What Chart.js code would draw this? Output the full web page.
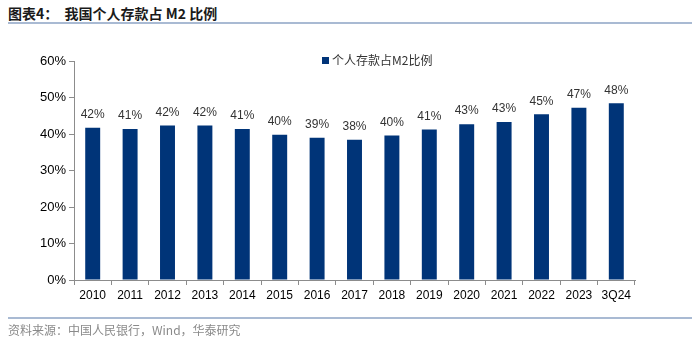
<!DOCTYPE html>
<html>
<head>
<meta charset="utf-8">
<script src="https://cdn.jsdelivr.net/npm/chart.js@4"></script>
<style>
  body { margin: 0; background: #fff; width: 700px; height: 342px; position: relative; overflow: hidden; }
  #myChart { position: absolute; left: 0; top: 0; }
  .title { position: absolute; left: 8px; top: 3px; font: bold 14px "Noto Sans CJK SC", sans-serif; color: #1a1a1a; white-space: pre; }
  .rule { position: absolute; left: 8px; width: 684px; height: 2px; background: #a9bad3; }
  .source { position: absolute; left: 8px; top: 321px; font: 12px "Noto Sans CJK SC", sans-serif; color: #8a8a8a; }
</style>
</head>
<body>
<div class="title">图表4：  我国个人存款占 M2 比例</div>
<div class="rule" style="top:22px"></div>
<canvas id="myChart" width="700" height="342"></canvas>
<div class="rule" style="top:317px"></div>
<div class="source">资料来源：中国人民银行，Wind，华泰研究</div>
<script>
var years = ['2010', '2011', '2012', '2013', '2014', '2015', '2016', '2017', '2018', '2019', '2020', '2021', '2022', '2023', '3Q24'];
var depositShare = [41.7, 41.4, 42.3, 42.3, 41.4, 39.8, 39.0, 38.4, 39.6, 41.2, 42.7, 43.3, 45.4, 47.2, 48.4];
var seriesName = '个人存款占M2比例';
var barColor = '#003478';

// value labels over each bar
var valueLabels = {
  id: 'valueLabels',
  afterDatasetsDraw: function (chart) {
    var ctx = chart.ctx;
    var meta = chart.getDatasetMeta(0);
    ctx.save();
    ctx.font = '12px "Liberation Sans", Arial, sans-serif';
    ctx.fillStyle = '#333';
    ctx.textAlign = 'center';
    ctx.textBaseline = 'middle';
    meta.data.forEach(function (bar, i) {
      ctx.fillText(Math.round(depositShare[i]) + '%', bar.x, bar.y - 13);
    });
    ctx.restore();
  }
};

// small legend inside the plot
var boxLegend = {
  id: 'boxLegend',
  afterDraw: function (chart) {
    var ctx = chart.ctx;
    ctx.save();
    ctx.fillStyle = barColor;
    ctx.fillRect(322, 57, 7, 7);
    ctx.font = '12px "Noto Sans CJK SC", sans-serif';
    ctx.fillStyle = '#333';
    ctx.textBaseline = 'middle';
    ctx.fillText(seriesName, 332, 60.5);
    ctx.restore();
  }
};

var axisGrey = '#8c8c8c';

var config = {
  type: 'bar',
  data: {
    labels: years,
    datasets: [{
      label: seriesName,
      data: depositShare,
      backgroundColor: barColor,
      barPercentage: 0.4,
      categoryPercentage: 1.0
    }]
  },
  options: {
    responsive: false,
    animation: false,
    devicePixelRatio: 1,
    layout: { padding: { top: 61, right: 65, left: 0, bottom: 0 } },
    plugins: {
      legend: { display: false },
      tooltip: { enabled: false }
    },
    scales: {
      x: {
        afterFit: function (s) { s.height = 62; },
        grid: { drawOnChartArea: false, tickLength: 5, color: axisGrey, offset: true },
        border: { color: axisGrey },
        ticks: { color: '#000', padding: 3, font: { size: 12, family: '"Liberation Sans", Arial, sans-serif' } }
      },
      y: {
        min: 0,
        max: 60,
        afterFit: function (s) { s.width = 74; },
        grid: { drawOnChartArea: false, tickLength: 5, color: axisGrey },
        border: { color: axisGrey },
        ticks: {
          stepSize: 10,
          color: '#000',
          padding: 3,
          font: { size: 13, family: '"Liberation Sans", Arial, sans-serif' },
          callback: function (v) { return v + '%'; }
        }
      }
    }
  },
  plugins: [valueLabels, boxLegend]
};

var ctx = document.getElementById('myChart').getContext('2d');
window.myBar = new Chart(ctx, config);
</script>
</body>
</html>
